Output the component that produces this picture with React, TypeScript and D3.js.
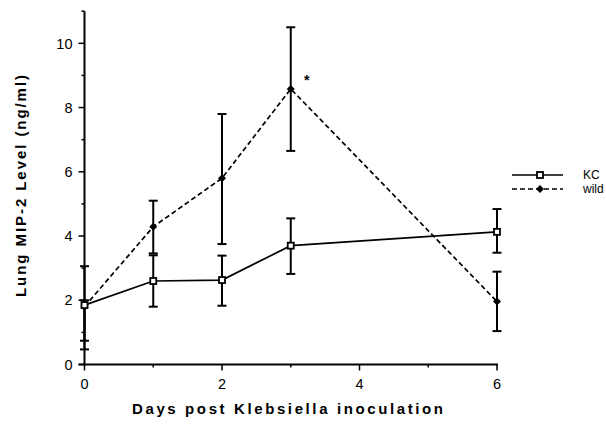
import React from "react";
import * as d3 from "d3";

const days = [0, 1, 2, 3, 6];
const kcMean = [1.85, 2.6, 2.63, 3.7, 4.13];
const kcLow = [0.74, 1.8, 1.83, 2.82, 3.48];
const kcHigh = [2.0, 3.4, 3.39, 4.55, 4.84];
const wildMean = [1.8, 4.29, 5.8, 8.58, 1.96];
const wildLow = [0.47, 3.46, 3.75, 6.65, 1.04];
const wildHigh = [3.06, 5.1, 7.8, 10.5, 2.89];
const xTicks = [0, 1, 2, 3, 4, 5, 6];
const xLabels = [0, 2, 4, 6];
const yTicks = [0, 1, 2, 3, 4, 5, 6, 7, 8, 9, 10, 11];
const yLabels = [0, 2, 4, 6, 8, 10];
const seriesNames = ["KC", "wild"];

const W = 606;
const H = 424;
const FONT = "'Liberation Sans', Arial, Helvetica, sans-serif";

export default function App() {
  const x = d3.scaleLinear().domain([0, 6]).range([84.5, 497]);
  const y = d3.scaleLinear().domain([0, 11]).range([364.5, 11.2]);
  const line = d3
    .line<number>()
    .x((_, i) => x(days[i]))
    .y((d) => y(d));

  const capW = 4.5;
  const errBars = (lo: number[], hi: number[], key: string) =>
    days.map((d, i) => (
      <g key={key + i} stroke="#000" strokeWidth={2}>
        <line x1={x(d)} x2={x(d)} y1={y(lo[i])} y2={y(hi[i])} />
        <line x1={x(d) - capW} x2={x(d) + capW} y1={y(lo[i])} y2={y(lo[i])} />
        <line x1={x(d) - capW} x2={x(d) + capW} y1={y(hi[i])} y2={y(hi[i])} />
      </g>
    ));

  const square = (cx: number, cy: number, k: string) => (
    <rect key={k} x={cx - 3} y={cy - 3} width={6} height={6} fill="#fff" stroke="#000" strokeWidth={1.8} />
  );
  const diamond = (cx: number, cy: number, k: string) => (
    <path key={k} d={`M${cx},${cy - 4}L${cx + 4},${cy}L${cx},${cy + 4}L${cx - 4},${cy}Z`} fill="#000" />
  );

  const x0 = x(0);
  const yB = y(0);

  return (
    <svg
      width={W}
      height={H}
      style={{ position: "absolute", left: 0, top: 0, background: "#fff" }}
      fontFamily={FONT}
    >
      <rect width={W} height={H} fill="#fff" />
      {/* axes */}
      <line x1={x0} x2={x0} y1={y(11)} y2={yB + 1} stroke="#000" strokeWidth={2} />
      <line x1={x0 - 6} x2={x(6) + 1} y1={yB} y2={yB} stroke="#000" strokeWidth={2} />
      {yTicks.map((t) => (
        <line
          key={"yt" + t}
          x1={x0 - (t % 2 === 0 ? 6 : 3)}
          x2={x0}
          y1={y(t)}
          y2={y(t)}
          stroke="#000"
          strokeWidth={1.5}
        />
      ))}
      {yLabels.map((t) => (
        <text key={"yl" + t} x={x0 - 12} y={y(t)} dy="0.36em" textAnchor="end" fontSize={14.5}>
          {t}
        </text>
      ))}
      {xTicks.map((t) => (
        <line
          key={"xt" + t}
          x1={x(t)}
          x2={x(t)}
          y1={yB}
          y2={yB + (t % 2 === 0 ? 6 : 3)}
          stroke="#000"
          strokeWidth={1.5}
        />
      ))}
      {xLabels.map((t) => (
        <text key={"xl" + t} x={x(t)} y={388.5} textAnchor="middle" fontSize={14.5}>
          {t}
        </text>
      ))}
      {/* axis titles */}
      <text
        x={132}
        y={414}
        fontSize={15}
        fontWeight="bold"
        textLength={311}
        lengthAdjust="spacing"
      >
        Days post Klebsiella inoculation
      </text>
      <text
        transform={`translate(26,297) rotate(-90)`}
        fontSize={15}
        fontWeight="bold"
        textLength={222}
        lengthAdjust="spacing"
      >
        Lung MIP-2 Level (ng/ml)
      </text>
      {/* error bars */}
      {errBars(kcLow, kcHigh, "kce")}
      {errBars(wildLow, wildHigh, "we")}
      {/* lines */}
      <path d={line(kcMean) || ""} fill="none" stroke="#000" strokeWidth={1.7} />
      <path d={line(wildMean) || ""} fill="none" stroke="#000" strokeWidth={1.7} strokeDasharray="5,3" />
      {/* markers */}
      {days.map((d, i) => diamond(x(d), y(wildMean[i]), "wd" + i))}
      {days.map((d, i) => square(x(d), y(kcMean[i]), "ks" + i))}
      {/* significance */}
      <text x={x(3) + 16} y={y(wildMean[3]) - 4} textAnchor="middle" fontSize={14} fontWeight="bold">
        *
      </text>
      {/* legend */}
      <g>
        <line x1={512} x2={563} y1={175} y2={175} stroke="#000" strokeWidth={1.7} />
        {square(540, 175, "lg1")}
        <text x={583} y={175} dy="0.36em" fontSize={12}>
          {seriesNames[0]}
        </text>
        <line x1={512} x2={563} y1={189} y2={189} stroke="#000" strokeWidth={1.7} strokeDasharray="5,3" />
        {diamond(540, 189, "lg2")}
        <text x={583} y={189} dy="0.36em" fontSize={12}>
          {seriesNames[1]}
        </text>
      </g>
    </svg>
  );
}
